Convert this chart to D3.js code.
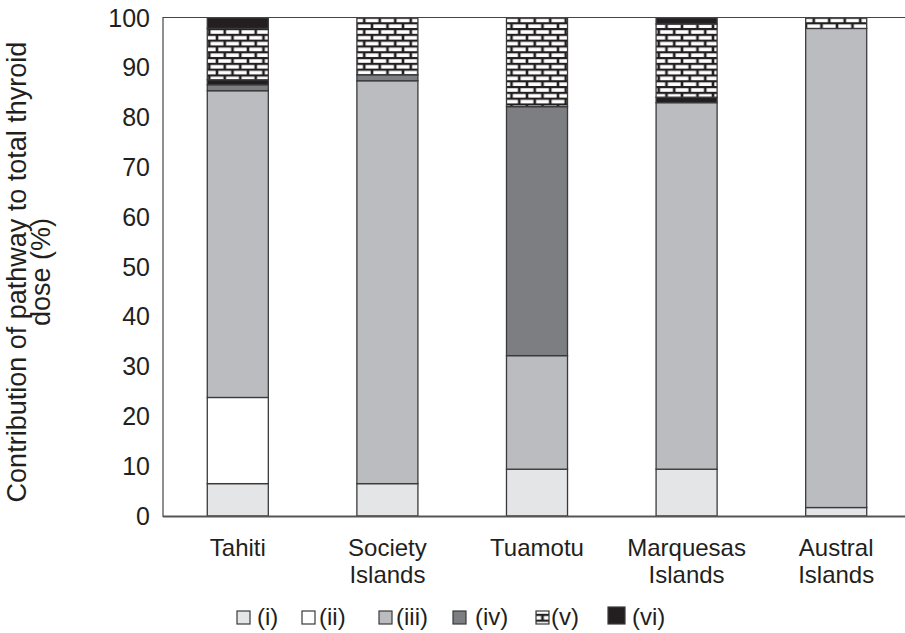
<!DOCTYPE html>
<html><head><meta charset="utf-8">
<script src="https://cdn.jsdelivr.net/npm/d3@7"></script>
<style>
html,body{margin:0;padding:0;background:#fff;}
svg{display:block;font-family:"Liberation Sans",Arial,Helvetica,sans-serif;}
</style></head>
<body>
<svg id="chart" width="905" height="633"></svg>
<script>
// ---- data (percent contribution, stacked bottom to top) ----
const categories = ["Tahiti", "Society Islands", "Tuamotu", "Marquesas Islands", "Austral Islands"];
const categoryLines = [["Tahiti"], ["Society", "Islands"], ["Tuamotu"], ["Marquesas", "Islands"], ["Austral", "Islands"]];
const pathI   = [6.5, 6.5, 9.4, 9.4, 1.7];
const pathII  = [17.3, 0, 0, 0, 0];
const pathIII = [61.6, 80.9, 22.8, 73.6, 96.2];
const pathIV  = [1.2, 1.2, 50.0, 0, 0];
const pathVIlow = [1.0, 0, 0, 1.1, 0];   // black band drawn beneath (v)
const pathV   = [10.3, 11.4, 17.8, 14.7, 2.1];
const pathVI  = [2.1, 0, 0, 1.2, 0];
const yTicks  = [0, 10, 20, 30, 40, 50, 60, 70, 80, 90, 100];
const legendLabels = ["(i)", "(ii)", "(iii)", "(iv)", "(v)", "(vi)"];

const seriesKeys = ["i", "ii", "iii", "iv", "viLow", "v", "vi"];
const seriesData = {i: pathI, ii: pathII, iii: pathIII, iv: pathIV, viLow: pathVIlow, v: pathV, vi: pathVI};
const table = categories.map((c, k) => {
  const row = {cat: c};
  seriesKeys.forEach(s => row[s] = seriesData[s][k]);
  return row;
});

const fills = {i: "#e4e5e7", ii: "#ffffff", iii: "#bbbcbf", iv: "#7d7e82", viLow: "#231f20", v: "url(#brick)", vi: "#231f20"};

const svg = d3.select("#chart");
const margin = {left: 163, top: 18, bottom: 516};

// brick pattern
const defs = svg.append("defs");
const pat = defs.append("pattern").attr("id", "brick").attr("patternUnits", "userSpaceOnUse")
  .attr("width", 15.5).attr("height", 11.6);
pat.append("rect").attr("width", 15.5).attr("height", 11.6).attr("fill", "#231f20");
pat.append("rect").attr("x", 1.3).attr("y", 1.2).attr("width", 12.9).attr("height", 3.6).attr("fill", "#fff");
pat.append("rect").attr("x", -6.45).attr("y", 7.0).attr("width", 12.9).attr("height", 3.6).attr("fill", "#fff");
pat.append("rect").attr("x", 9.05).attr("y", 7.0).attr("width", 12.9).attr("height", 3.6).attr("fill", "#fff");

const x = d3.scaleBand().domain(categories).range([163, 911]).paddingInner(0.592).paddingOuter(0.296);
const y = d3.scaleLinear().domain([0, 100]).range([margin.bottom, margin.top]);

const stack = d3.stack().keys(seriesKeys);
const layers = stack(table);

svg.append("g").selectAll("g").data(layers).join("g")
  .attr("fill", d => fills[d.key])
  .selectAll("rect").data(d => d.filter(p => p[1] - p[0] > 0)).join("rect")
  .attr("x", d => x(d.data.cat))
  .attr("width", x.bandwidth())
  .attr("y", d => y(d[1]))
  .attr("height", d => y(d[0]) - y(d[1]))
  .attr("stroke", "#3a3a3c")
  .attr("stroke-width", 1.3);

// frame lines
svg.append("line").attr("x1", 163).attr("x2", 905).attr("y1", y(100) - 0.5).attr("y2", y(100) - 0.5)
  .attr("stroke", "#444").attr("stroke-width", 1.2);
svg.append("line").attr("x1", 163).attr("x2", 163).attr("y1", y(100) - 1).attr("y2", y(0) + 1)
  .attr("stroke", "#444").attr("stroke-width", 1.2);
svg.append("line").attr("x1", 163).attr("x2", 905).attr("y1", y(0) + 0.5).attr("y2", y(0) + 0.5)
  .attr("stroke", "#555").attr("stroke-width", 1.8);

// y axis
const yAxis = svg.append("g").attr("transform", "translate(163,0)")
  .call(d3.axisLeft(y).tickValues(yTicks).tickSize(0).tickPadding(13));
yAxis.select(".domain").remove();
yAxis.selectAll("text").attr("font-size", 25).attr("fill", "#231f20")
  .attr("font-family", "Liberation Sans, Arial, sans-serif");

// x labels
const xl = svg.append("g");
categories.forEach((c, k) => {
  const t = xl.append("text").attr("text-anchor", "middle").attr("font-size", 24).attr("fill", "#231f20")
    .attr("x", x(c) + x.bandwidth() / 2).attr("y", 556);
  categoryLines[k].forEach((ln, j) => {
    t.append("tspan").attr("x", x(c) + x.bandwidth() / 2).attr("dy", j === 0 ? 0 : 27).text(ln);
  });
});

// y title
const yt = svg.append("text").attr("transform", "translate(26,272) rotate(-90)")
  .attr("text-anchor", "middle").attr("font-size", 27).attr("fill", "#231f20");
yt.append("tspan").attr("x", 0).attr("dy", 0).text("Contribution of pathway to total thyroid");
yt.append("tspan").attr("x", 0).attr("dy", 24).text("dose (%)");

// legend
const legendFill = ["#e4e5e7", "#ffffff", "#bbbcbf", "#7d7e82", "url(#brick)", "#231f20"];
const legendSq = [237, 302, 379, 453, 536, 608];
const legendTx = [257, 319, 396, 475, 551, 632];
const lg = svg.append("g");
legendLabels.forEach((lab, k) => {
  const s = k === 5 ? 17 : 13;
  lg.append("rect").attr("x", legendSq[k]).attr("y", 624 - s).attr("width", s).attr("height", s)
    .attr("fill", legendFill[k]).attr("stroke", "#3a3a3c").attr("stroke-width", 1.2);
  lg.append("text").attr("x", legendTx[k]).attr("y", 625).attr("font-size", 24).attr("fill", "#231f20").text(lab);
});
</script>
</body></html>
